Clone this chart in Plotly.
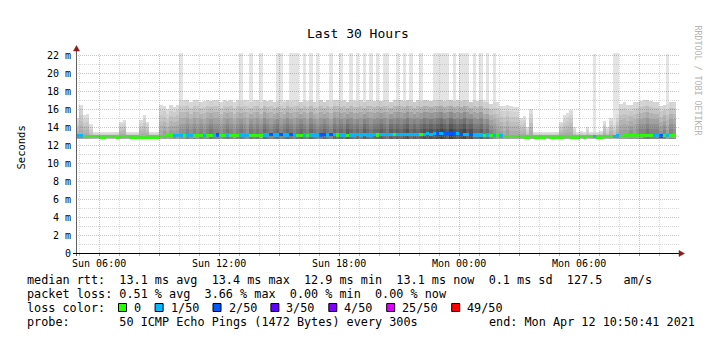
import plotly.graph_objects as go
import math

# ---------------- data (10-minute bins, 30 hours, one row per hour) ----------------
T_START = 4 + 50 / 60 + 41 / 3600      # Sun 04:50:41, hours since Sun 00:00
STEP = 1 / 6                           # 10 minutes

smoke_max = [
    15.0, 16.5, 15.3, 15.4, 14.3, 13.5,
    13.5, 13.4, 13.4, 13.5, 13.4, 13.4,
    13.4, 14.6, 14.8, 13.5, 13.4, 13.4,
    13.4, 14.8, 15.3, 14.6, 13.4, 13.4,
    13.5, 16.5, 16.3, 16.0, 16.4, 16.2,
    16.5, 22.3, 17.0, 17.0, 16.8, 17.0,
    17.0, 16.8, 16.9, 17.0, 16.9, 17.0,
    17.0, 16.8, 17.0, 16.9, 17.0, 16.8,
    17.0, 22.3, 17.0, 17.0, 22.3, 17.0,
    17.0, 22.3, 17.0, 16.9, 17.0, 16.8,
    22.3, 22.3, 17.0, 17.0, 22.3, 22.3,
    22.3, 16.8, 22.3, 16.9, 22.3, 16.8,
    22.3, 16.9, 16.8, 17.0, 22.3, 17.0,
    17.0, 22.3, 17.0, 16.8, 22.3, 17.0,
    22.3, 17.0, 22.3, 17.0, 22.3, 16.9,
    22.3, 16.9, 22.3, 22.3, 16.8, 17.0,
    22.3, 17.0, 22.3, 17.0, 22.3, 16.8,
    17.0, 22.3, 17.0, 17.0, 16.9, 22.3,
    22.3, 22.3, 22.3, 22.3, 17.0, 22.3,
    17.0, 22.3, 22.3, 22.3, 16.8, 22.3,
    16.9, 22.3, 17.0, 22.3, 16.6, 22.3,
    16.8, 16.3, 16.3, 16.4, 16.3, 16.2,
    16.2, 15.0, 15.2, 14.0, 16.0, 13.5,
    13.5, 13.4, 13.5, 13.4, 13.4, 13.5,
    13.5, 14.6, 15.3, 15.6, 15.9, 14.0,
    13.5, 13.6, 13.5, 14.0, 13.5, 22.1,
    13.5, 13.6, 14.7, 14.0, 15.0, 22.2,
    22.2, 16.6, 16.8, 16.5, 16.4, 16.8,
    16.8, 16.9, 17.0, 17.0, 16.9, 16.8,
    16.8, 16.3, 16.5, 22.1, 16.8, 16.8,
]

band_top = [
    15.0, 16.5, 15.3, 15.4, 14.3, 13.5,
    13.5, 13.4, 13.4, 13.5, 13.4, 13.4,
    13.4, 14.6, 14.8, 13.5, 13.4, 13.4,
    13.4, 14.8, 15.3, 14.6, 13.4, 13.4,
    13.5, 16.5, 16.3, 16.0, 16.4, 16.2,
    16.5, 17.0, 17.0, 17.0, 16.8, 17.0,
    17.0, 16.8, 16.9, 17.0, 16.9, 17.0,
    17.0, 16.8, 17.0, 16.9, 17.0, 16.8,
    17.0, 16.9, 17.0, 17.0, 16.8, 17.0,
    17.0, 16.8, 17.0, 16.9, 17.0, 16.8,
    16.9, 17.0, 16.8, 17.0, 16.9, 17.0,
    17.0, 16.8, 17.0, 16.9, 17.0, 16.8,
    16.9, 17.0, 16.8, 17.0, 16.9, 17.0,
    17.0, 16.9, 17.0, 16.8, 17.0, 16.9,
    16.9, 17.0, 16.8, 17.0, 17.0, 16.9,
    17.0, 16.9, 17.0, 17.0, 16.8, 17.0,
    17.0, 17.0, 16.9, 17.0, 17.0, 16.8,
    17.0, 16.9, 17.0, 17.0, 16.9, 17.0,
    17.0, 17.0, 16.9, 17.0, 17.0, 16.9,
    17.0, 16.9, 17.0, 17.0, 16.8, 17.0,
    16.9, 17.0, 16.8, 16.8, 16.6, 16.8,
    16.8, 16.3, 16.3, 16.4, 16.3, 16.2,
    16.2, 15.0, 15.2, 14.0, 16.0, 13.5,
    13.5, 13.4, 13.5, 13.4, 13.4, 13.5,
    13.5, 14.6, 15.3, 15.6, 15.9, 14.0,
    13.5, 13.6, 13.5, 14.0, 13.5, 13.6,
    13.5, 13.6, 14.7, 14.0, 15.0, 14.5,
    15.5, 16.6, 16.8, 16.5, 16.4, 16.8,
    16.8, 16.9, 17.0, 17.0, 16.9, 16.8,
    16.8, 16.3, 16.5, 16.6, 16.8, 16.8,
]

# smoke darkness 0 (light) .. 9 (dark)
shade = [
    1, 1, 1, 1, 0, 0,
    0, 0, 0, 0, 0, 0,
    0, 1, 1, 0, 0, 0,
    0, 1, 1, 1, 0, 0,
    0, 1, 2, 1, 2, 2,
    2, 3, 3, 4, 3, 4,
    3, 4, 3, 4, 5, 4,
    4, 3, 4, 5, 4, 3,
    4, 5, 4, 3, 5, 4,
    5, 4, 6, 5, 4, 5,
    6, 4, 5, 6, 5, 4,
    5, 6, 5, 4, 6, 5,
    4, 5, 6, 5, 4, 6,
    5, 6, 5, 7, 6, 5,
    6, 5, 7, 6, 5, 6,
    6, 7, 6, 5, 7, 6,
    7, 6, 7, 8, 6, 7,
    6, 7, 8, 7, 8, 7,
    8, 9, 8, 7, 9, 8,
    7, 8, 9, 7, 8, 6,
    6, 7, 5, 6, 4, 3,
    2, 2, 1, 2, 1, 1,
    1, 1, 1, 0, 1, 0,
    0, 0, 0, 0, 0, 0,
    0, 1, 1, 1, 1, 0,
    0, 0, 0, 0, 0, 0,
    0, 0, 1, 0, 1, 0,
    1, 2, 2, 2, 3, 2,
    3, 4, 4, 5, 4, 4,
    4, 3, 4, 2, 4, 3,
]

median_rtt = [
    13.0, 13.0, 12.95, 12.95, 12.95, 12.95,
    12.95, 12.9, 12.9, 12.95, 12.95, 12.95,
    12.9, 12.95, 12.95, 12.95, 12.9, 12.9,
    12.9, 12.85, 12.85, 12.9, 12.9, 12.9,
    12.9, 12.95, 12.95, 13.0, 13.0, 13.0,
    13.05, 13.05, 13.0, 13.05, 13.05, 13.0,
    13.0, 13.05, 13.05, 13.0, 13.05, 13.1,
    13.1, 13.05, 13.05, 13.1, 13.05, 13.0,
    13.05, 13.1, 13.1, 13.05, 13.05, 13.05,
    13.05, 13.0, 13.1, 13.1, 13.15, 13.1,
    13.1, 13.15, 13.1, 13.1, 13.15, 13.1,
    13.05, 13.05, 13.1, 13.05, 13.1, 13.1,
    13.1, 13.1, 13.15, 13.1, 13.15, 13.15,
    13.1, 13.1, 13.1, 13.05, 13.1, 13.1,
    13.15, 13.1, 13.15, 13.1, 13.1, 13.15,
    13.1, 13.15, 13.2, 13.15, 13.15, 13.2,
    13.15, 13.2, 13.2, 13.15, 13.2, 13.2,
    13.2, 13.15, 13.2, 13.25, 13.2, 13.25,
    13.3, 13.3, 13.35, 13.3, 13.25, 13.3,
    13.25, 13.2, 13.2, 13.15, 13.15, 13.1,
    13.1, 13.1, 13.05, 13.1, 13.05, 13.05,
    13.0, 13.0, 12.95, 12.95, 12.95, 12.95,
    12.95, 12.95, 12.9, 12.9, 12.95, 12.9,
    12.9, 12.9, 12.9, 12.95, 12.9, 12.9,
    12.9, 12.9, 12.95, 12.95, 12.9, 12.9,
    12.9, 12.95, 12.9, 12.95, 12.95, 12.95,
    12.9, 12.9, 12.95, 12.95, 12.95, 12.95,
    13.0, 12.95, 13.0, 13.0, 13.0, 13.0,
    13.0, 13.0, 13.05, 13.05, 13.05, 13.05,
    13.0, 13.0, 13.05, 13.05, 13.0, 13.0,
]

# lost pings out of 50 per bin
loss = [
    1, 1, 0, 0, 0, 0,
    0, 0, 0, 0, 0, 0,
    0, 0, 0, 0, 0, 0,
    0, 0, 0, 0, 0, 0,
    0, 0, 0, 0, 0, 1,
    1, 1, 0, 1, 1, 0,
    0, 0, 1, 0, 0, 1,
    2, 0, 0, 1, 0, 0,
    0, 1, 1, 1, 0, 0,
    0, 0, 1, 1, 2, 1,
    1, 2, 1, 1, 2, 1,
    0, 0, 1, 0, 1, 1,
    1, 2, 2, 1, 2, 1,
    0, 1, 1, 0, 1, 1,
    1, 1, 1, 1, 1, 1,
    0, 1, 1, 1, 1, 0,
    1, 1, 1, 1, 1, 1,
    1, 0, 1, 1, 1, 1,
    2, 1, 2, 2, 2, 2,
    1, 2, 1, 1, 2, 1,
    1, 1, 0, 1, 0, 1,
    0, 1, 0, 0, 0, 0,
    0, 0, 0, 0, 0, 0,
    0, 0, 0, 0, 0, 0,
    0, 0, 0, 0, 0, 0,
    0, 0, 0, 0, 0, 1,
    0, 0, 0, 0, 0, 1,
    1, 0, 0, 0, 0, 0,
    0, 0, 0, 0, 0, 1,
    1, 2, 0, 1, 0, 0,
]

SMOKE_BASE = 12.7

loss_levels = [0, 1, 2, 3, 4, 25, 49]
loss_labels = ["0", "1/50", "2/50", "3/50", "4/50", "25/50", "49/50"]
loss_colors = ["#26ff00", "#00b8ff", "#0059ff", "#5e00ff", "#7e00ff", "#dd00ff", "#ff0000"]

x_tick_vals = [6, 12, 18, 24, 30]
x_tick_text = ["Sun 06:00", "Sun 12:00", "Sun 18:00", "Mon 00:00", "Mon 06:00"]
y_tick_vals = list(range(0, 23, 2))
y_tick_text = ["0"] + [f"{v} m" for v in y_tick_vals[1:]]

legend_rtt = "median rtt:  13.1 ms avg  13.4 ms max  12.9 ms min  13.1 ms now  0.1 ms sd  127.5   am/s"
legend_loss = "packet loss: 0.51 % avg  3.66 % max  0.00 % min  0.00 % now"
legend_probe = "probe:       50 ICMP Echo Pings (1472 Bytes) every 300s"
legend_end = "end: Mon Apr 12 10:50:41 2021"

# ---------------- layout geometry ----------------
W, H = 721, 351
ML, MR, MT, MB = 76, 45, 53, 98
PW, PH = W - ML - MR, H - MT - MB
Y_TOP = PH / 9.0          # 9 px per ms
X_END = T_START + 30
MONO = "DejaVu Sans Mono"


def pxx(p):
    return (p - ML) / PW


def pxy(p):
    return (H - MB - p) / PH


n = len(smoke_max)
xc = [T_START + (i + 0.5) * STEP for i in range(n)]


def grey(g):
    g = int(round(g))
    return f"rgb({g},{g},{g})"


fig = go.Figure()
common = dict(x=xc, width=STEP, base=SMOKE_BASE, hoverinfo="skip", showlegend=False)

# outermost (max ping) smoke
fig.add_trace(go.Bar(y=[m - SMOKE_BASE for m in smoke_max],
                     marker=dict(color="rgb(228,228,228)", line=dict(width=0)), **common))

# inner smoke layers, darker towards the median
layer_frac = [1.0, 0.84, 0.68, 0.53, 0.39, 0.25]
layer_light = [224, 216, 208, 200, 192, 184]
layer_dark = [28, 48, 68, 88, 104, 116]
for frac, gl, gd in zip(layer_frac, layer_light, layer_dark):
    fig.add_trace(go.Bar(y=[frac * (b - SMOKE_BASE) for b in band_top],
                         marker=dict(color=[grey(gl - gd * s / 9) for s in shade], line=dict(width=0)),
                         **common))

LINE_HALF = 1.7 / 9
med_cols = [loss_colors[loss_levels.index(l)] for l in loss]
fig.add_trace(go.Bar(x=xc, width=STEP, base=[m - LINE_HALF for m in median_rtt],
                     y=[2 * LINE_HALF] * n, marker=dict(color=med_cols, line=dict(width=0)),
                     hoverinfo="skip", showlegend=False))

shapes = []
GRID_MINOR = "rgba(150,150,150,0.36)"
GRID_MAJOR = "rgba(200,60,60,0.38)"
for k in range(1, 23):
    ypix = (H - MB) - 9 * k + 0.5
    shapes.append(dict(type="line", xref="paper", yref="paper", x0=0, x1=pxx(679),
                       y0=pxy(ypix), y1=pxy(ypix), layer="above",
                       line=dict(color=GRID_MAJOR if k % 2 == 0 else GRID_MINOR, width=1, dash="1px,1px")))
for hr in range(5, 35):
    xpix = math.floor(ML + 20 * (hr - T_START)) + 0.5
    major = hr % 3 == 0
    shapes.append(dict(type="line", xref="paper", yref="paper", x0=pxx(xpix), x1=pxx(xpix),
                       y0=0, y1=1, layer="above",
                       line=dict(color=GRID_MAJOR if major else GRID_MINOR, width=1, dash="1px,1px")))
    shapes.append(dict(type="line", xref="paper", yref="paper", x0=pxx(xpix), x1=pxx(xpix),
                       y0=pxy(254), y1=pxy(256), layer="above",
                       line=dict(color="rgba(200,60,60,0.7)" if major else "rgba(140,140,140,0.6)", width=1)))

# axes
shapes.append(dict(type="line", xref="paper", yref="paper", x0=pxx(76.5), x1=pxx(76.5),
                   y0=pxy(256), y1=pxy(50), layer="above", line=dict(color="#606060", width=1)))
shapes.append(dict(type="line", xref="paper", yref="paper", x0=pxx(73), x1=pxx(680),
                   y0=pxy(253.5), y1=pxy(253.5), layer="above", line=dict(color="#000000", width=1)))
ARROW = "#8b1a1a"
shapes.append(dict(type="path", xref="paper", yref="paper", layer="above",
                   path=f"M {pxx(76.5)} {pxy(45.5)} L {pxx(73.5)} {pxy(51)} L {pxx(79.5)} {pxy(51)} Z",
                   fillcolor=ARROW, line=dict(color=ARROW, width=0.5)))
shapes.append(dict(type="path", xref="paper", yref="paper", layer="above",
                   path=f"M {pxx(684.5)} {pxy(253.5)} L {pxx(679)} {pxy(250.5)} L {pxx(679)} {pxy(256.5)} Z",
                   fillcolor=ARROW, line=dict(color=ARROW, width=0.5)))

NB = "\u00a0"
annotations = []


def text_at(x, y, s, size, xanchor="left", color="#000000", angle=0):
    annotations.append(dict(x=pxx(x), y=pxy(y), xref="paper", yref="paper", text=s.replace(" ", NB),
                            showarrow=False, xanchor=xanchor, yanchor="middle", borderpad=0,
                            textangle=angle, font=dict(family=MONO, size=size, color=color)))


text_at(358, 33.5, "Last 30 Hours", 13, xanchor="center")
text_at(20.5, 148, "Seconds", 10.5, xanchor="center", angle=-90)
text_at(697.5, 80, "RRDTOOL / TOBI OETIKER", 8.3, xanchor="center", color="#b4b4b4", angle=90)

LEG_SIZE = 11.8
text_at(26, 279.5, legend_rtt, LEG_SIZE)
text_at(26, 293.5, legend_loss, LEG_SIZE)
text_at(26, 307.5, "loss color:", LEG_SIZE)
text_at(26, 321.5, legend_probe, LEG_SIZE)
text_at(488, 321.5, legend_end, LEG_SIZE)

CHW = 7.1
tx = 133.0
for lab, col in zip(loss_labels, loss_colors):
    bx = tx - 15
    shapes.append(dict(type="rect", xref="paper", yref="paper", x0=pxx(bx + 0.5), x1=pxx(bx + 8.5),
                       y0=pxy(311.5), y1=pxy(303.5), fillcolor=col, line=dict(color="#000000", width=1)))
    text_at(tx, 307.5, lab, LEG_SIZE)
    tx += len(lab) * CHW + 29.5

fig.update_layout(
    width=W, height=H, margin=dict(l=ML, r=MR, t=MT, b=MB, pad=0),
    paper_bgcolor="#ffffff", plot_bgcolor="#ffffff",
    barmode="overlay", bargap=0,
    shapes=shapes, annotations=annotations,
    xaxis=dict(range=[T_START, X_END], showgrid=False, zeroline=False, showline=False,
               tickvals=x_tick_vals, ticktext=x_tick_text, ticks="", ticklabelstandoff=3,
               tickfont=dict(family=MONO, size=10, color="#000000"), fixedrange=True),
    yaxis=dict(range=[0, Y_TOP], showgrid=False, zeroline=False, showline=False,
               tickvals=y_tick_vals, ticktext=y_tick_text, ticks="", ticklabelstandoff=4,
               tickfont=dict(family=MONO, size=10, color="#000000"), fixedrange=True),
)

fig.write_html("out.html")
